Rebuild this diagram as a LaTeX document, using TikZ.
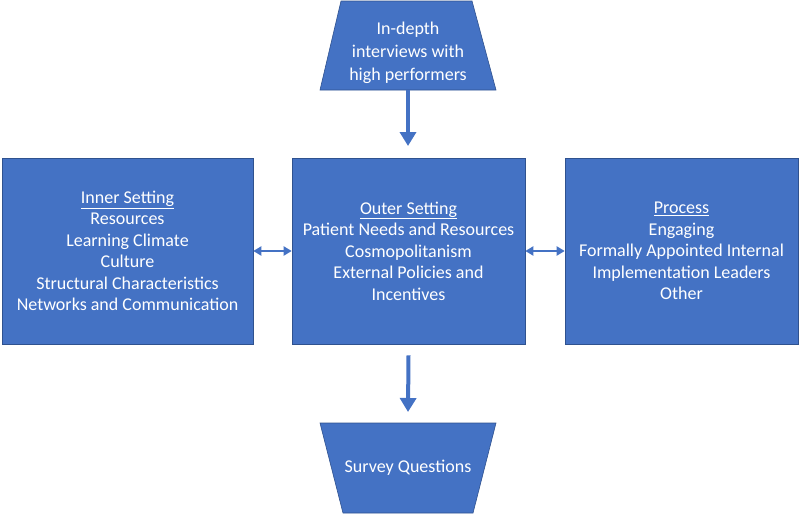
\documentclass[tikz,border=0pt]{standalone}
\usepackage{fontspec}
\setmainfont{Carlito}
\usetikzlibrary{arrows.meta}
\definecolor{boxblue}{HTML}{4472C4}
\definecolor{edgeblue}{HTML}{2F528F}
\begin{document}
\begin{tikzpicture}[x=1pt,y=-1pt,
  box/.style={draw=edgeblue, line width=0.6pt, fill=boxblue, text=white,
    font=\fontsize{18}{21.5}\selectfont, align=center,
    minimum width=233pt, minimum height=186pt, inner sep=0pt},
  funnel/.style={draw=edgeblue, line width=0.6pt, fill=boxblue},
  funneltext/.style={text=white, font=\fontsize{18}{23}\selectfont, align=center},
  flow/.style={draw=boxblue, line width=4pt, -{Triangle[width=16pt,length=14pt]}},
  link/.style={draw=boxblue, line width=2.5pt, {Triangle[width=9pt,length=8pt]}-{Triangle[width=9pt,length=8pt]}}]
\useasboundingbox (0,0) rectangle (800,522);
{\centering
% top and bottom funnels
\draw[funnel] (341,1) -- (472,1) -- (496,90) -- (320,90) -- cycle;
\node[funneltext] (interviews) at (408,53) {In-depth\\ interviews with\\ high performers};
\coordinate (interviews bottom) at (408,90);
\draw[funnel] (320,423) -- (496,423) -- (473,513) -- (343,513) -- cycle;
\node[funneltext] (survey) at (408,468) {Survey Questions};
\coordinate (survey top) at (408,423);
% the three settings
\node[box, minimum width=251pt] (inner) at (127.5,251) {\underline{Inner Setting}\\ Resources\\ Learning Climate\\ Culture\\ Structural Characteristics\\ Networks and Communication};
\node[box] (outer) at (408.5,251) {\underline{Outer Setting}\\ Patient Needs and Resources\\ Cosmopolitanism\\ External Policies and\\ Incentives};
\node[box] (process) at (681.5,251) {\underline{Process}\\ Engaging\\ Formally Appointed Internal\\ Implementation Leaders\\ Other};
\draw[flow] (interviews bottom) -- ++(0,56);
\draw[link] (inner.east) -- (outer.west);
\draw[link] (outer.east) -- (process.west);
\draw[flow] ([yshift=-11pt]outer.south) -- ([yshift=11pt]survey top);
}
\end{tikzpicture}
\end{document}
